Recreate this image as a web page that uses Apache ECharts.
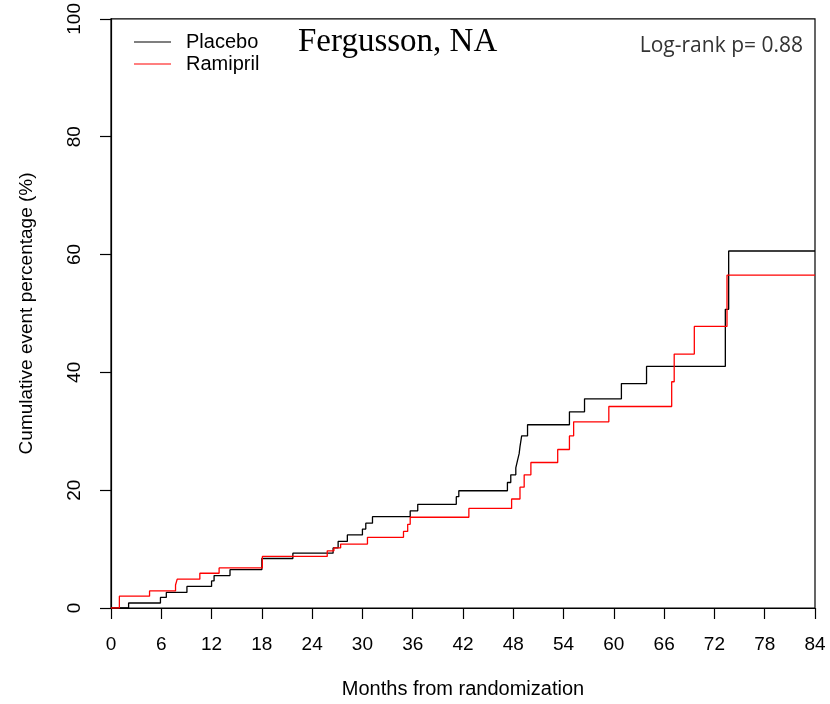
<!DOCTYPE html>
<html>
<head>
<meta charset="utf-8">
<script src="https://cdn.jsdelivr.net/npm/echarts@6/dist/echarts.min.js"></script>
<style>html,body{margin:0;padding:0;background:#fff;}#chart{width:830px;height:704px;}</style>
</head>
<body>
<div id="chart"></div>
<script>
// Step-change times (months) and cumulative event percentages
var placeboMonths = [0, 2.1, 5.9, 6.6, 9.06, 12.0, 12.3, 14.2, 18.0, 21.7, 26.5, 27.1, 28.2, 30.0, 30.4, 31.2, 35.7, 36.6, 41.2, 41.5, 47.3, 47.7, 48.3, 48.5, 48.7, 48.8, 49.0, 49.7, 54.7, 56.5, 60.9, 63.9, 73.3, 73.7, 84];
var placeboPct    = [0, 0.85, 1.8, 2.65, 3.67, 4.6, 5.5, 6.5, 8.4, 9.3, 10.2, 11.3, 12.4, 13.4, 14.4, 15.5, 16.5, 17.6, 18.9, 19.9, 21.3, 22.6, 23.8, 25.0, 26.2, 27.4, 29.2, 31.1, 33.3, 35.5, 38.1, 41.0, 50.7, 60.6, 60.6];
var ramiprilMonths = [0, 1.0, 4.6, 7.7, 7.9, 10.6, 12.9, 18.06, 25.8, 26.6, 27.4, 30.6, 34.9, 35.4, 35.7, 42.7, 47.8, 48.8, 49.3, 50.1, 53.3, 54.7, 55.2, 59.4, 66.9, 67.2, 69.6, 73.5, 84];
var ramiprilPct    = [0, 2.0, 2.9, 3.9, 4.9, 5.9, 6.8, 8.75, 9.7, 10.2, 10.85, 12.0, 13.0, 14.2, 15.4, 16.9, 18.5, 20.5, 22.6, 24.7, 26.9, 29.2, 31.6, 34.2, 38.4, 43.1, 47.8, 56.5, 56.5];
var xTicks = {min: 0, max: 84, interval: 6};
var yTicks = {min: 0, max: 100, interval: 20};
var seriesNames = ['Placebo', 'Ramipril'];
var chartTitle = 'Fergusson, NA';
var pText = 'Log-rank p= 0.88';

function pairs(xs, ys) { return xs.map(function (x, i) { return [x, ys[i]]; }); }

var chart = echarts.init(document.getElementById('chart'), null, {renderer: 'canvas'});
var axisFont = {fontFamily: 'Liberation Sans, Arial, sans-serif', fontSize: 19, color: '#000'};
chart.setOption({
  animation: false,
  backgroundColor: '#fff',
  grid: {left: 111, right: 15, top: 18, bottom: 95, show: true, borderColor: '#000', borderWidth: 1.2, backgroundColor: 'transparent'},
  title: {
    text: chartTitle, left: 293, top: 21,
    textStyle: {fontFamily: 'Liberation Serif, Times New Roman, serif', fontSize: 33, fontWeight: 'normal', color: '#000'}
  },
  graphic: [{
    type: 'text', right: 27, top: 36,
    style: {text: pText, font: '21px "Open Sans", sans-serif', fill: '#333'}
  }],
  legend: {
    orient: 'vertical', left: 129, top: 27, itemWidth: 37, itemHeight: 14, itemGap: 2,
    icon: 'path://M0,7 L37,7 L37,8 L0,8 Z',
    textStyle: {fontFamily: 'Liberation Sans, Arial, sans-serif', fontSize: 20, color: '#000', padding: [0, 0, 0, 10], lineHeight: 20},
    data: seriesNames
  },
  xAxis: {
    type: 'value', min: xTicks.min, max: xTicks.max, interval: xTicks.interval,
    name: 'Months from randomization', nameLocation: 'middle', nameGap: 71,
    nameTextStyle: {fontFamily: 'Liberation Sans, Arial, sans-serif', fontSize: 20, color: '#000'},
    axisLine: {show: true, onZero: false, lineStyle: {color: '#000', width: 1.2}},
    axisTick: {show: true, length: 11, lineStyle: {color: '#000', width: 1.2}},
    axisLabel: Object.assign({margin: 27}, axisFont),
    splitLine: {show: false}
  },
  yAxis: {
    type: 'value', min: yTicks.min, max: yTicks.max, interval: yTicks.interval,
    name: 'Cumulative event percentage (%)', nameLocation: 'middle', nameGap: 75,
    nameTextStyle: axisFont,
    axisLine: {show: true, onZero: false, lineStyle: {color: '#000', width: 1.2}},
    axisTick: {show: true, length: 11, lineStyle: {color: '#000', width: 1.2}},
    axisLabel: Object.assign({margin: 27, rotate: 90}, axisFont),
    splitLine: {show: false}
  },
  series: [
    {name: seriesNames[0], type: 'line', step: 'end', symbol: 'none', data: pairs(placeboMonths, placeboPct),
     lineStyle: {color: '#000', width: 1.3}, itemStyle: {color: '#000'}},
    {name: seriesNames[1], type: 'line', step: 'end', symbol: 'none', data: pairs(ramiprilMonths, ramiprilPct),
     lineStyle: {color: '#ff0000', width: 1.3}, itemStyle: {color: '#ff0000'}}
  ]
});
</script>
</body>
</html>
